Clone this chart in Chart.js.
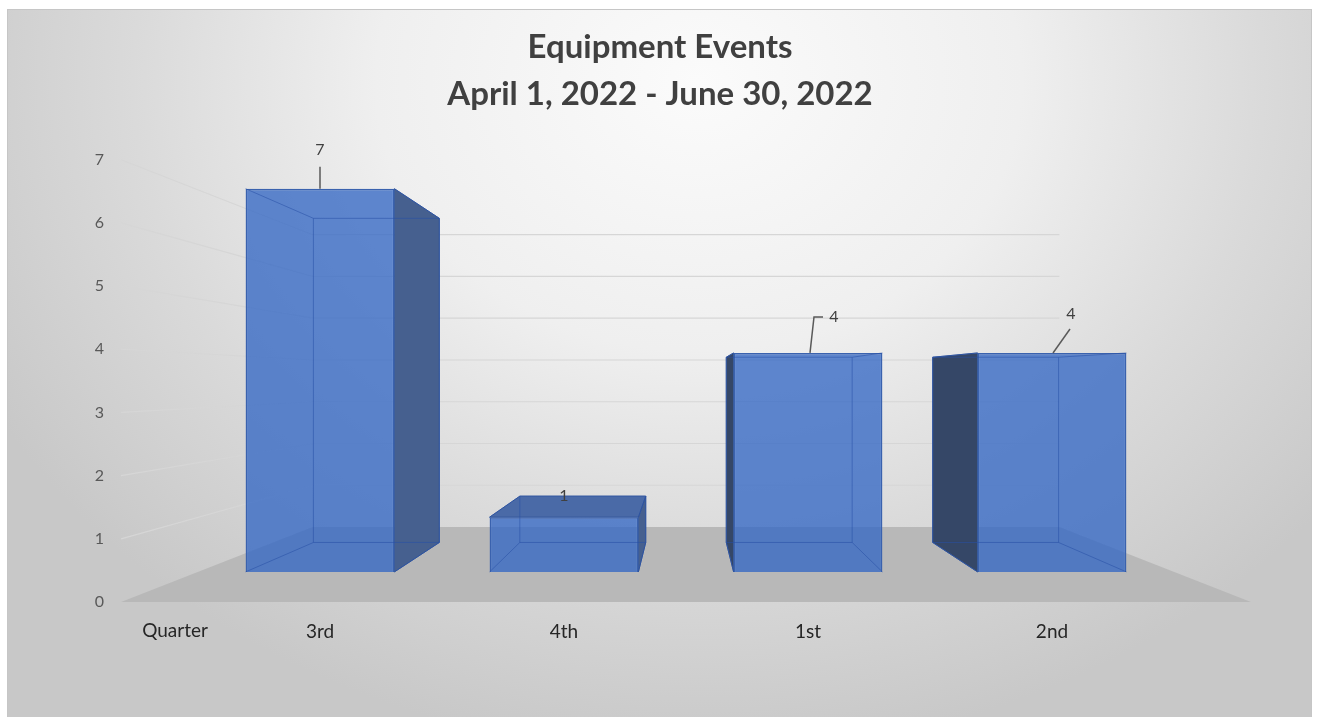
<!DOCTYPE html>
<html>
<head>
<meta charset="utf-8">
<title>Equipment Events</title>
<script src="https://cdn.jsdelivr.net/npm/chart.js@4.4.1/dist/chart.umd.min.js"></script>
<style>
  html, body { margin: 0; padding: 0; background: #fff; }
  #frame {
    position: absolute; left: 7px; top: 9px; width: 1303px; height: 710px;
    border: 1px solid #c6c6c6; border-bottom: none;
    background: radial-gradient(ellipse 62% 95% at 53% 10%, #fbfbfb 0%, #efefef 40%, #dadada 70%, #c8c8c8 100%);
  }
  #myChart { position: absolute; left: 0; top: 0; }
</style>
</head>
<body>
<div id="frame"></div>
<canvas id="myChart" width="1320" height="717"></canvas>
<script>
var quarters = ['3rd', '4th', '1st', '2nd'];
var events = [7, 1, 4, 4];
var axisTicks = [0, 1, 2, 3, 4, 5, 6, 7];
var titleLines = ['Equipment Events', 'April 1, 2022 - June 30, 2022'];
var axisHeader = 'Quarter';

var FONT = "Lato, 'Open Sans', sans-serif";

// offsets of the data labels and their leader lines, per bar
var labelSpots = [
  { dx: 0,  dy: -39, lead: [[0, 0], [0, -22]] },
  { dx: 0,  dy: -21, lead: null },
  { dx: 26, dy: -36, lead: [[2, 0], [6, -36], [15, -36]] },
  { dx: 19, dy: -39, lead: [[1, 0], [18, -24]] }
];

// fake 3d: floor, walls, box sides, all from the chart scales
var box3d = {
  id: 'box3d',
  geo: function(chart) {
    var area = chart.chartArea;
    var vx = (area.left + area.right) / 2, vy = (area.top + area.bottom) / 2;
    var base = chart.scales.y.getPixelForValue(0);
    return {
      vx: vx, vy: vy,
      sF: (area.bottom - vy) / (base - vy), // label plane vs bar plane
      sW: 0.661,                            // back wall depth
      sB: 0.846                             // bar depth
    };
  },
  beforeDatasetsDraw: function(chart) {
    var ctx = chart.ctx, area = chart.chartArea, yl = chart.scales.yl;
    var g = this.geo(chart);
    function P(x, y, s) { return [g.vx + s * (x - g.vx), g.vy + s * (y - g.vy)]; }
    var fl = P(area.left, 0, g.sF)[0], fr = P(area.right, 0, g.sF)[0];
    var bl = P(fl, area.bottom, g.sW), br = P(fr, area.bottom, g.sW);

    ctx.save();
    // floor
    ctx.fillStyle = '#b8b8b8';
    ctx.beginPath();
    ctx.moveTo(fl, area.bottom);
    ctx.lineTo(fr, area.bottom);
    ctx.lineTo(br[0], br[1]);
    ctx.lineTo(bl[0], bl[1]);
    ctx.closePath();
    ctx.fill();

    // wall gridlines
    ctx.strokeStyle = '#d6d6d6';
    ctx.lineWidth = 1.2;
    axisTicks.forEach(function(v) {
      if (v === 0) return;
      var yy = yl.getPixelForValue(v);
      var b = P(fl, yy, g.sW), c = P(fr, yy, g.sW);
      ctx.beginPath();
      ctx.moveTo(fl, yy);
      ctx.lineTo(b[0], b[1]);
      ctx.lineTo(c[0], c[1]);
      ctx.stroke();
    });

    // box sides and tops
    var bars = chart.getDatasetMeta(0).data;
    bars.forEach(function(bar) {
      var p = bar.getProps(['x', 'y', 'base', 'width'], true);
      var L = p.x - p.width / 2, R = p.x + p.width / 2, T = p.y, B = p.base;
      var lt = P(L, T, g.sB), rt = P(R, T, g.sB), rb = P(R, B, g.sB), lb = P(L, B, g.sB);
      ctx.strokeStyle = '#34579a';
      ctx.lineWidth = 1;
      if (rt[0] > R) {
        ctx.fillStyle = '#46608f';
        ctx.beginPath();
        ctx.moveTo(R, T); ctx.lineTo(rt[0], rt[1]); ctx.lineTo(rb[0], rb[1]); ctx.lineTo(R, B);
        ctx.closePath(); ctx.fill(); ctx.stroke();
      }
      if (lt[0] < L) {
        ctx.fillStyle = '#354767';
        ctx.beginPath();
        ctx.moveTo(L, T); ctx.lineTo(lt[0], lt[1]); ctx.lineTo(lb[0], lb[1]); ctx.lineTo(L, B);
        ctx.closePath(); ctx.fill(); ctx.stroke();
      }
      if (lt[1] < T) {
        ctx.fillStyle = '#4a6aa7';
        ctx.beginPath();
        ctx.moveTo(L, T); ctx.lineTo(R, T); ctx.lineTo(rt[0], rt[1]); ctx.lineTo(lt[0], lt[1]);
        ctx.closePath(); ctx.fill(); ctx.stroke();
      }
    });
    ctx.restore();
  },
  afterDatasetsDraw: function(chart) {
    var ctx = chart.ctx;
    var g = this.geo(chart);
    function P(x, y, s) { return [g.vx + s * (x - g.vx), g.vy + s * (y - g.vy)]; }
    var bars = chart.getDatasetMeta(0).data;
    ctx.save();
    // edges seen through the box
    ctx.strokeStyle = 'rgba(40,80,165,0.55)';
    ctx.lineWidth = 1;
    bars.forEach(function(bar) {
      var p = bar.getProps(['x', 'y', 'base', 'width'], true);
      var L = p.x - p.width / 2, R = p.x + p.width / 2, T = p.y, B = p.base;
      var lt = P(L, T, g.sB), rt = P(R, T, g.sB), rb = P(R, B, g.sB), lb = P(L, B, g.sB);
      ctx.beginPath();
      ctx.moveTo(lt[0], lt[1]); ctx.lineTo(rt[0], rt[1]); ctx.lineTo(rb[0], rb[1]);
      ctx.lineTo(lb[0], lb[1]); ctx.closePath();
      ctx.moveTo(L, T); ctx.lineTo(lt[0], lt[1]);
      ctx.moveTo(R, T); ctx.lineTo(rt[0], rt[1]);
      ctx.moveTo(R, B); ctx.lineTo(rb[0], rb[1]);
      ctx.moveTo(L, B); ctx.lineTo(lb[0], lb[1]);
      ctx.stroke();
    });

    // data labels with leader lines
    ctx.font = '16px ' + FONT;
    ctx.textAlign = 'center';
    ctx.textBaseline = 'middle';
    bars.forEach(function(bar, i) {
      var p = bar.getProps(['x', 'y'], true);
      var s = labelSpots[i];
      if (s.lead) {
        ctx.strokeStyle = '#595959';
        ctx.lineWidth = 1.5;
        ctx.beginPath();
        s.lead.forEach(function(pt, k) {
          if (k === 0) ctx.moveTo(p.x + pt[0], p.y + pt[1]);
          else ctx.lineTo(p.x + pt[0], p.y + pt[1]);
        });
        ctx.stroke();
      }
      ctx.fillStyle = '#404040';
      ctx.fillText(String(events[i]), p.x + s.dx, p.y + s.dy);
    });

    // category header left of the first quarter
    var xs = chart.scales.x;
    ctx.font = '19px ' + FONT;
    ctx.fillStyle = '#262626';
    ctx.fillText(axisHeader, chart.chartArea.left - 23, xs.top + 18 + 11);
    ctx.restore();
  }
};

var data = {
  labels: quarters,
  datasets: [{
    label: 'Events',
    data: events,
    yAxisID: 'y',
    backgroundColor: 'rgba(52,104,196,0.78)',
    borderColor: '#3a62ae',
    borderWidth: 1.5,
    barPercentage: 0.61,
    categoryPercentage: 1
  }]
};

var config = {
  type: 'bar',
  data: data,
  options: {
    responsive: false,
    animation: false,
    layout: { padding: 0 },
    plugins: {
      legend: { display: false },
      tooltip: { enabled: false },
      title: {
        display: true,
        text: titleLines,
        color: '#404040',
        font: { family: FONT, size: 33, weight: 'bold', lineHeight: 1.42 },
        padding: { top: 24, bottom: 42 }
      }
    },
    scales: {
      x: {
        grid: { display: false, drawTicks: false },
        border: { display: false },
        ticks: { color: '#262626', font: { family: FONT, size: 19 }, padding: 18 },
        afterFit: function(s) { s.height = 115; }
      },
      y: {
        display: false,
        min: -0.55,
        max: 7.53
      },
      yl: {
        position: 'left',
        min: 0,
        max: 7,
        grid: { display: false, drawTicks: false },
        border: { display: false },
        ticks: { stepSize: 1, color: '#595959', font: { family: FONT, size: 16 }, padding: 94 },
        afterFit: function(s) { s.width = 198; }
      },
      // empty strip on the right so the title stays centred on the page
      yr: {
        position: 'right',
        min: 0,
        max: 7,
        grid: { display: false, drawTicks: false },
        border: { display: false },
        ticks: { display: false },
        afterFit: function(s) { s.width = 146; }
      }
    }
  },
  plugins: [box3d]
};

var myChart = new Chart(document.getElementById('myChart'), config);
</script>
</body>
</html>
